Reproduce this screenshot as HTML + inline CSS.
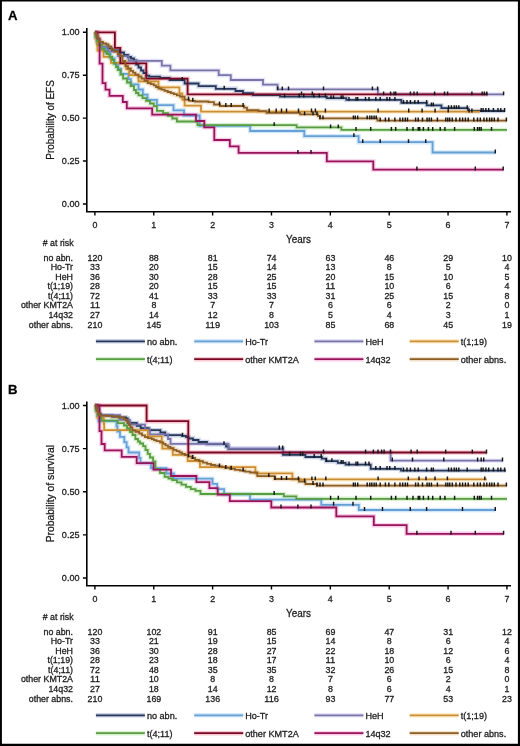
<!DOCTYPE html><html><head><meta charset="utf-8"><style>html,body{margin:0;padding:0;background:#fff;}svg{display:block;will-change:transform;}text{font-family:"Liberation Sans", sans-serif;stroke:#222;stroke-width:0.28px;paint-order:stroke;}</style></head><body><svg width="520" height="746" viewBox="0 0 520 746"><rect x="0" y="0" width="520" height="746" fill="#fff"/><g><text x="8.1" y="19.5" font-size="13.2" font-weight="bold" fill="#000">A</text><path d="M94.9 32.3H95.8V36.0H97.0V40.0H99.0V44.0H101.0V46.8H106.3V48.4H112.0V50.5H119.4V52.5H124.0V55.0H128.0V57.0H131.0V58.5H134.0V60.5H136.2V64.6H138.5V67.5H141.0V70.5H143.5V73.0H146.2V75.6H149.2V76.7H160.0V77.8H169.6V80.0H184.6V83.5H198.6V86.2H215.8V88.8H235.5V91.0H243.0V93.2H253.0V95.0H280.0V96.6H326.8V98.2H346.3V99.9H401.3V102.9H426.7V105.4H441.4V108.2H467.8V111.0H505.0" fill="none" stroke="#4060a0" stroke-width="4.40" stroke-opacity="0.28"/><path d="M94.9 32.3H96.0V37.5H98.0V42.7H101.0V47.9H106.0V53.1H110.5V58.3H114.5V63.5H118.0V68.7H121.0V73.9H128.5V79.1H130.8V84.3H138.5V89.5H142.8V94.7H147.5V99.9H156.9V105.1H173.5V110.3H184.0V115.5H199.7V125.9H250.2V131.0H304.3V136.2H358.6V142.2H432.6V152.5H495.3" fill="none" stroke="#60b0f0" stroke-width="4.40" stroke-opacity="0.28"/><path d="M94.9 32.3H95.8V37.1H97.0V41.8H100.5V46.6H108.0V51.4H118.0V56.2H128.6V60.9H161.8V65.7H170.4V70.4H218.7V75.2H230.8V80.0H263.0V84.6H277.5V89.4H377.9V94.4H503.8" fill="none" stroke="#a098e8" stroke-width="4.40" stroke-opacity="0.28"/><path d="M94.9 32.3H95.8V38.4H96.8V44.5H97.4V50.6H103.5V56.8H111.0V62.9H126.2V69.0H129.2V75.2H138.5V81.3H158.5V87.3H179.4V93.4H182.3V99.6H184.6V105.6H201.0V111.6H480.0" fill="none" stroke="#f8b840" stroke-width="4.40" stroke-opacity="0.28"/><path d="M94.9 32.3H95.8V37.0H97.0V41.0H98.5V45.0H102.0V49.0H104.5V51.5H107.0V54.0H109.5V57.0H112.1V60.0H114.0V63.5H116.0V67.0H118.0V70.0H120.5V74.5H123.1V78.5H127.0V82.5H130.8V86.2H134.0V90.0H136.0V93.0H138.5V95.4H142.5V98.2H146.2V100.8H150.0V103.5H153.8V106.2H156.9V110.8H163.1V113.1H168.0V115.8H172.3V118.5H176.9V121.5H197.5V125.2H296.6V127.4H341.4V129.9H507.0" fill="none" stroke="#70c850" stroke-width="4.40" stroke-opacity="0.28"/><path d="M94.9 32.3H114.9V47.9H120.3V63.3H146.3V78.6H187.6V94.4H487.8" fill="none" stroke="#f03858" stroke-width="4.40" stroke-opacity="0.28"/><path d="M94.9 32.3H97.5V38.6H99.6V63.6H102.5V83.2H105.5V89.6H109.5V95.9H122.8V102.0H126.8V108.3H152.2V114.7H196.0V121.0H204.3V127.4H214.3V140.0H229.8V146.4H238.6V152.9H326.8V161.4H373.3V169.6H503.2" fill="none" stroke="#f040b0" stroke-width="4.40" stroke-opacity="0.28"/><path d="M94.9 32.3H95.5V33.5H96.2V34.7H96.8V35.9H97.5V37.1H98.1V38.4H98.7V39.6H99.4V40.8H100.0V42.0H103.0V43.5H106.3V44.5H108.5V46.5H111.2V49.2H114.0V51.5H117.8V54.2H120.0V56.0H122.5V61.0H125.4V66.2H128.0V68.5H130.8V70.8H133.0V72.7H135.4V74.6H138.5V76.5H141.5V78.5H144.5V80.8H147.7V83.1H150.8V84.2H153.8V85.4H156.0V87.0H158.5V88.5H161.5V89.6H164.6V90.8H167.7V92.0H170.8V93.1H173.8V94.2H176.9V95.4H180.0V96.7H184.6V99.6H189.2V100.8H195.0V101.5H208.4V102.2H214.0V104.5H220.0V106.0H244.0V107.6H247.0V110.2H258.5V111.2H266.5V112.9H300.0V114.4H318.0V116.0H320.0V118.4H377.4V120.6H506.5" fill="none" stroke="#d09040" stroke-width="4.40" stroke-opacity="0.28"/><path d="M94.9 32.3H95.8V36.0H97.0V40.0H99.0V44.0H101.0V46.8H106.3V48.4H112.0V50.5H119.4V52.5H124.0V55.0H128.0V57.0H131.0V58.5H134.0V60.5H136.2V64.6H138.5V67.5H141.0V70.5H143.5V73.0H146.2V75.6H149.2V76.7H160.0V77.8H169.6V80.0H184.6V83.5H198.6V86.2H215.8V88.8H235.5V91.0H243.0V93.2H253.0V95.0H280.0V96.6H326.8V98.2H346.3V99.9H401.3V102.9H426.7V105.4H441.4V108.2H467.8V111.0H505.0" fill="none" stroke="#26385a" stroke-width="1.8" stroke-linejoin="miter"/><path d="M94.9 32.3H96.0V37.5H98.0V42.7H101.0V47.9H106.0V53.1H110.5V58.3H114.5V63.5H118.0V68.7H121.0V73.9H128.5V79.1H130.8V84.3H138.5V89.5H142.8V94.7H147.5V99.9H156.9V105.1H173.5V110.3H184.0V115.5H199.7V125.9H250.2V131.0H304.3V136.2H358.6V142.2H432.6V152.5H495.3" fill="none" stroke="#66a0d4" stroke-width="1.8" stroke-linejoin="miter"/><path d="M94.9 32.3H95.8V37.1H97.0V41.8H100.5V46.6H108.0V51.4H118.0V56.2H128.6V60.9H161.8V65.7H170.4V70.4H218.7V75.2H230.8V80.0H263.0V84.6H277.5V89.4H377.9V94.4H503.8" fill="none" stroke="#7874a6" stroke-width="1.8" stroke-linejoin="miter"/><path d="M94.9 32.3H95.8V38.4H96.8V44.5H97.4V50.6H103.5V56.8H111.0V62.9H126.2V69.0H129.2V75.2H138.5V81.3H158.5V87.3H179.4V93.4H182.3V99.6H184.6V105.6H201.0V111.6H480.0" fill="none" stroke="#cc8e34" stroke-width="1.8" stroke-linejoin="miter"/><path d="M94.9 32.3H95.8V37.0H97.0V41.0H98.5V45.0H102.0V49.0H104.5V51.5H107.0V54.0H109.5V57.0H112.1V60.0H114.0V63.5H116.0V67.0H118.0V70.0H120.5V74.5H123.1V78.5H127.0V82.5H130.8V86.2H134.0V90.0H136.0V93.0H138.5V95.4H142.5V98.2H146.2V100.8H150.0V103.5H153.8V106.2H156.9V110.8H163.1V113.1H168.0V115.8H172.3V118.5H176.9V121.5H197.5V125.2H296.6V127.4H341.4V129.9H507.0" fill="none" stroke="#5a9c44" stroke-width="1.8" stroke-linejoin="miter"/><path d="M94.9 32.3H114.9V47.9H120.3V63.3H146.3V78.6H187.6V94.4H487.8" fill="none" stroke="#760824" stroke-width="1.8" stroke-linejoin="miter"/><path d="M94.9 32.3H97.5V38.6H99.6V63.6H102.5V83.2H105.5V89.6H109.5V95.9H122.8V102.0H126.8V108.3H152.2V114.7H196.0V121.0H204.3V127.4H214.3V140.0H229.8V146.4H238.6V152.9H326.8V161.4H373.3V169.6H503.2" fill="none" stroke="#941658" stroke-width="1.8" stroke-linejoin="miter"/><path d="M94.9 32.3H95.5V33.5H96.2V34.7H96.8V35.9H97.5V37.1H98.1V38.4H98.7V39.6H99.4V40.8H100.0V42.0H103.0V43.5H106.3V44.5H108.5V46.5H111.2V49.2H114.0V51.5H117.8V54.2H120.0V56.0H122.5V61.0H125.4V66.2H128.0V68.5H130.8V70.8H133.0V72.7H135.4V74.6H138.5V76.5H141.5V78.5H144.5V80.8H147.7V83.1H150.8V84.2H153.8V85.4H156.0V87.0H158.5V88.5H161.5V89.6H164.6V90.8H167.7V92.0H170.8V93.1H173.8V94.2H176.9V95.4H180.0V96.7H184.6V99.6H189.2V100.8H195.0V101.5H208.4V102.2H214.0V104.5H220.0V106.0H244.0V107.6H247.0V110.2H258.5V111.2H266.5V112.9H300.0V114.4H318.0V116.0H320.0V118.4H377.4V120.6H506.5" fill="none" stroke="#8a5e26" stroke-width="1.8" stroke-linejoin="miter"/><path d="M182.3 80.9v-3.9M224.2 89.7v-3.9M284.6 97.5v-3.9M299.2 97.5v-3.9M303.8 97.5v-3.9M313.8 97.5v-3.9M319.2 97.5v-3.9M325.4 97.5v-3.9M331.0 99.1v-3.9M333.5 99.1v-3.9M341.2 99.1v-3.9M343.0 99.1v-3.9M349.0 100.8v-3.9M356.0 100.8v-3.9M357.7 100.8v-3.9M365.5 100.8v-3.9M369.0 100.8v-3.9M375.8 100.8v-3.9M380.2 100.8v-3.9M387.0 100.8v-3.9M389.7 100.8v-3.9M394.9 100.8v-3.9M403.5 103.8v-3.9M407.0 103.8v-3.9M410.4 103.8v-3.9M414.8 103.8v-3.9M418.2 103.8v-3.9M426.6 103.8v-3.9M431.4 106.3v-3.9M433.3 106.3v-3.9M448.6 109.1v-3.9M451.4 109.1v-3.9M454.2 109.1v-3.9M456.4 109.1v-3.9M458.8 109.1v-3.9M467.2 109.1v-3.9M481.2 111.9v-3.9M483.1 111.9v-3.9M485.9 111.9v-3.9M488.7 111.9v-3.9M493.4 111.9v-3.9M498.0 111.9v-3.9M500.8 111.9v-3.9M504.6 111.9v-3.9M277.7 90.3v-3.9M282.3 90.3v-3.9M288.5 90.3v-3.9M323.5 90.3v-3.9M372.4 90.3v-3.9M377.6 90.3v-3.9M383.6 95.3v-3.9M390.6 95.3v-3.9M394.0 95.3v-3.9M395.7 95.3v-3.9M410.4 95.3v-3.9M417.2 95.3v-3.9M434.6 95.3v-3.9M444.5 95.3v-3.9M447.6 95.3v-3.9M471.9 95.3v-3.9M503.6 95.3v-3.9M301.5 95.3v-3.9M312.3 95.3v-3.9M414.0 95.3v-3.9M482.2 95.3v-3.9M484.4 95.3v-3.9M486.8 95.3v-3.9M269.2 112.5v-3.9M276.2 112.5v-3.9M281.5 112.5v-3.9M286.5 112.5v-3.9M298.5 112.5v-3.9M311.5 112.5v-3.9M315.4 112.5v-3.9M325.4 112.5v-3.9M378.1 112.5v-3.9M408.7 112.5v-3.9M422.1 112.5v-3.9M435.1 112.5v-3.9M448.2 112.5v-3.9M469.1 112.5v-3.9M471.9 112.5v-3.9M188.5 100.5v-3.9M192.8 101.7v-3.9M219.5 105.4v-3.9M225.8 106.9v-3.9M231.2 106.9v-3.9M243.1 106.9v-3.9M304.6 115.3v-3.9M313.0 115.3v-3.9M317.0 115.3v-3.9M320.0 119.3v-3.9M323.0 119.3v-3.9M353.4 119.3v-3.9M355.3 119.3v-3.9M357.7 119.3v-3.9M367.2 119.3v-3.9M369.8 119.3v-3.9M371.8 119.3v-3.9M374.1 119.3v-3.9M376.2 119.3v-3.9M380.2 121.5v-3.9M385.4 121.5v-3.9M388.8 121.5v-3.9M394.9 121.5v-3.9M400.0 121.5v-3.9M402.7 121.5v-3.9M405.3 121.5v-3.9M407.5 121.5v-3.9M415.6 121.5v-3.9M418.2 121.5v-3.9M422.5 121.5v-3.9M427.1 121.5v-3.9M429.2 121.5v-3.9M431.4 121.5v-3.9M437.4 121.5v-3.9M445.8 121.5v-3.9M447.8 121.5v-3.9M449.7 121.5v-3.9M452.3 121.5v-3.9M456.0 121.5v-3.9M459.8 121.5v-3.9M462.6 121.5v-3.9M465.4 121.5v-3.9M468.2 121.5v-3.9M473.8 121.5v-3.9M477.5 121.5v-3.9M480.3 121.5v-3.9M484.0 121.5v-3.9M486.8 121.5v-3.9M489.6 121.5v-3.9M491.8 121.5v-3.9M494.3 121.5v-3.9M498.0 121.5v-3.9M506.4 121.5v-3.9M274.2 126.1v-3.9M330.6 128.3v-3.9M338.3 128.3v-3.9M356.0 130.8v-3.9M370.7 130.8v-3.9M391.4 130.8v-3.9M395.7 130.8v-3.9M407.0 130.8v-3.9M413.0 130.8v-3.9M418.2 130.8v-3.9M419.7 130.8v-3.9M423.4 130.8v-3.9M428.4 130.8v-3.9M432.7 130.8v-3.9M440.2 130.8v-3.9M444.9 130.8v-3.9M454.6 130.8v-3.9M474.3 130.8v-3.9M477.5 130.8v-3.9M479.4 130.8v-3.9M481.2 130.8v-3.9M491.5 130.8v-3.9M353.9 137.1v-3.9M362.7 143.1v-3.9M380.2 143.1v-3.9M408.5 143.1v-3.9M425.7 143.1v-3.9M495.3 153.4v-3.9M297.9 153.8v-3.9M311.0 153.8v-3.9M416.9 170.5v-3.9M475.3 170.5v-3.9M503.2 170.5v-3.9" stroke="#161616" stroke-width="1.45" fill="none"/><path d="M86.8 28.0V211.7H511" fill="none" stroke="#000" stroke-width="1.6"/><text x="79.5" y="35.40" font-size="8.8" text-anchor="end" textLength="17.64" lengthAdjust="spacingAndGlyphs" fill="#1a1a1a">1.00</text><text x="79.5" y="78.33" font-size="8.8" text-anchor="end" textLength="17.64" lengthAdjust="spacingAndGlyphs" fill="#1a1a1a">0.75</text><text x="79.5" y="121.25" font-size="8.8" text-anchor="end" textLength="17.64" lengthAdjust="spacingAndGlyphs" fill="#1a1a1a">0.50</text><text x="79.5" y="164.17" font-size="8.8" text-anchor="end" textLength="17.64" lengthAdjust="spacingAndGlyphs" fill="#1a1a1a">0.25</text><text x="79.5" y="207.10" font-size="8.8" text-anchor="end" textLength="17.64" lengthAdjust="spacingAndGlyphs" fill="#1a1a1a">0.00</text><path d="M82.9 32.30H86.8M82.9 75.23H86.8M82.9 118.15H86.8M82.9 161.07H86.8M82.9 204.00H86.8" stroke="#000" stroke-width="1.4"/><text x="94.90" y="227.5" font-size="8.9" text-anchor="middle" fill="#1a1a1a">0</text><text x="153.76" y="227.5" font-size="8.9" text-anchor="middle" fill="#1a1a1a">1</text><text x="212.62" y="227.5" font-size="8.9" text-anchor="middle" fill="#1a1a1a">2</text><text x="271.48" y="227.5" font-size="8.9" text-anchor="middle" fill="#1a1a1a">3</text><text x="330.34" y="227.5" font-size="8.9" text-anchor="middle" fill="#1a1a1a">4</text><text x="389.20" y="227.5" font-size="8.9" text-anchor="middle" fill="#1a1a1a">5</text><text x="448.06" y="227.5" font-size="8.9" text-anchor="middle" fill="#1a1a1a">6</text><text x="506.92" y="227.5" font-size="8.9" text-anchor="middle" fill="#1a1a1a">7</text><path d="M94.90 211.7V215.6M153.76 211.7V215.6M212.62 211.7V215.6M271.48 211.7V215.6M330.34 211.7V215.6M389.20 211.7V215.6M448.06 211.7V215.6M506.92 211.7V215.6" stroke="#000" stroke-width="1.4"/><text x="298.55" y="242.6" font-size="11.2" text-anchor="middle" textLength="25.0" lengthAdjust="spacingAndGlyphs" fill="#1a1a1a">Years</text><text transform="translate(54.3 119.95) rotate(-90)" font-size="11.0" text-anchor="middle" textLength="79.4" lengthAdjust="spacingAndGlyphs" fill="#1a1a1a">Probability of EFS</text><text x="73.6" y="246.1" font-size="8.8" text-anchor="end" fill="#1a1a1a"># at risk</text><text x="73.0" y="260.70" font-size="8.85" text-anchor="end" fill="#1a1a1a">no abn.</text><text x="95.00" y="260.70" font-size="8.85" text-anchor="middle" textLength="14.76" lengthAdjust="spacingAndGlyphs" fill="#1a1a1a">120</text><text x="153.86" y="260.70" font-size="8.85" text-anchor="middle" textLength="9.84" lengthAdjust="spacingAndGlyphs" fill="#1a1a1a">88</text><text x="212.72" y="260.70" font-size="8.85" text-anchor="middle" textLength="9.84" lengthAdjust="spacingAndGlyphs" fill="#1a1a1a">81</text><text x="271.58" y="260.70" font-size="8.85" text-anchor="middle" textLength="9.84" lengthAdjust="spacingAndGlyphs" fill="#1a1a1a">74</text><text x="330.44" y="260.70" font-size="8.85" text-anchor="middle" textLength="9.84" lengthAdjust="spacingAndGlyphs" fill="#1a1a1a">63</text><text x="389.30" y="260.70" font-size="8.85" text-anchor="middle" textLength="9.84" lengthAdjust="spacingAndGlyphs" fill="#1a1a1a">46</text><text x="448.16" y="260.70" font-size="8.85" text-anchor="middle" textLength="9.84" lengthAdjust="spacingAndGlyphs" fill="#1a1a1a">29</text><text x="507.02" y="260.70" font-size="8.85" text-anchor="middle" textLength="9.84" lengthAdjust="spacingAndGlyphs" fill="#1a1a1a">10</text><text x="73.0" y="270.25" font-size="8.85" text-anchor="end" fill="#1a1a1a">Ho-Tr</text><text x="95.00" y="270.25" font-size="8.85" text-anchor="middle" textLength="9.84" lengthAdjust="spacingAndGlyphs" fill="#1a1a1a">33</text><text x="153.86" y="270.25" font-size="8.85" text-anchor="middle" textLength="9.84" lengthAdjust="spacingAndGlyphs" fill="#1a1a1a">20</text><text x="212.72" y="270.25" font-size="8.85" text-anchor="middle" textLength="9.84" lengthAdjust="spacingAndGlyphs" fill="#1a1a1a">15</text><text x="271.58" y="270.25" font-size="8.85" text-anchor="middle" textLength="9.84" lengthAdjust="spacingAndGlyphs" fill="#1a1a1a">14</text><text x="330.44" y="270.25" font-size="8.85" text-anchor="middle" textLength="9.84" lengthAdjust="spacingAndGlyphs" fill="#1a1a1a">13</text><text x="389.30" y="270.25" font-size="8.85" text-anchor="middle" textLength="4.92" lengthAdjust="spacingAndGlyphs" fill="#1a1a1a">8</text><text x="448.16" y="270.25" font-size="8.85" text-anchor="middle" textLength="4.92" lengthAdjust="spacingAndGlyphs" fill="#1a1a1a">5</text><text x="507.02" y="270.25" font-size="8.85" text-anchor="middle" textLength="4.92" lengthAdjust="spacingAndGlyphs" fill="#1a1a1a">4</text><text x="73.0" y="279.80" font-size="8.85" text-anchor="end" fill="#1a1a1a">HeH</text><text x="95.00" y="279.80" font-size="8.85" text-anchor="middle" textLength="9.84" lengthAdjust="spacingAndGlyphs" fill="#1a1a1a">36</text><text x="153.86" y="279.80" font-size="8.85" text-anchor="middle" textLength="9.84" lengthAdjust="spacingAndGlyphs" fill="#1a1a1a">30</text><text x="212.72" y="279.80" font-size="8.85" text-anchor="middle" textLength="9.84" lengthAdjust="spacingAndGlyphs" fill="#1a1a1a">28</text><text x="271.58" y="279.80" font-size="8.85" text-anchor="middle" textLength="9.84" lengthAdjust="spacingAndGlyphs" fill="#1a1a1a">25</text><text x="330.44" y="279.80" font-size="8.85" text-anchor="middle" textLength="9.84" lengthAdjust="spacingAndGlyphs" fill="#1a1a1a">20</text><text x="389.30" y="279.80" font-size="8.85" text-anchor="middle" textLength="9.84" lengthAdjust="spacingAndGlyphs" fill="#1a1a1a">15</text><text x="448.16" y="279.80" font-size="8.85" text-anchor="middle" textLength="9.84" lengthAdjust="spacingAndGlyphs" fill="#1a1a1a">10</text><text x="507.02" y="279.80" font-size="8.85" text-anchor="middle" textLength="4.92" lengthAdjust="spacingAndGlyphs" fill="#1a1a1a">5</text><text x="73.0" y="289.35" font-size="8.85" text-anchor="end" fill="#1a1a1a">t(1;19)</text><text x="95.00" y="289.35" font-size="8.85" text-anchor="middle" textLength="9.84" lengthAdjust="spacingAndGlyphs" fill="#1a1a1a">28</text><text x="153.86" y="289.35" font-size="8.85" text-anchor="middle" textLength="9.84" lengthAdjust="spacingAndGlyphs" fill="#1a1a1a">20</text><text x="212.72" y="289.35" font-size="8.85" text-anchor="middle" textLength="9.84" lengthAdjust="spacingAndGlyphs" fill="#1a1a1a">15</text><text x="271.58" y="289.35" font-size="8.85" text-anchor="middle" textLength="9.84" lengthAdjust="spacingAndGlyphs" fill="#1a1a1a">15</text><text x="330.44" y="289.35" font-size="8.85" text-anchor="middle" textLength="9.84" lengthAdjust="spacingAndGlyphs" fill="#1a1a1a">11</text><text x="389.30" y="289.35" font-size="8.85" text-anchor="middle" textLength="9.84" lengthAdjust="spacingAndGlyphs" fill="#1a1a1a">10</text><text x="448.16" y="289.35" font-size="8.85" text-anchor="middle" textLength="4.92" lengthAdjust="spacingAndGlyphs" fill="#1a1a1a">6</text><text x="507.02" y="289.35" font-size="8.85" text-anchor="middle" textLength="4.92" lengthAdjust="spacingAndGlyphs" fill="#1a1a1a">4</text><text x="73.0" y="298.90" font-size="8.85" text-anchor="end" fill="#1a1a1a">t(4;11)</text><text x="95.00" y="298.90" font-size="8.85" text-anchor="middle" textLength="9.84" lengthAdjust="spacingAndGlyphs" fill="#1a1a1a">72</text><text x="153.86" y="298.90" font-size="8.85" text-anchor="middle" textLength="9.84" lengthAdjust="spacingAndGlyphs" fill="#1a1a1a">41</text><text x="212.72" y="298.90" font-size="8.85" text-anchor="middle" textLength="9.84" lengthAdjust="spacingAndGlyphs" fill="#1a1a1a">33</text><text x="271.58" y="298.90" font-size="8.85" text-anchor="middle" textLength="9.84" lengthAdjust="spacingAndGlyphs" fill="#1a1a1a">33</text><text x="330.44" y="298.90" font-size="8.85" text-anchor="middle" textLength="9.84" lengthAdjust="spacingAndGlyphs" fill="#1a1a1a">31</text><text x="389.30" y="298.90" font-size="8.85" text-anchor="middle" textLength="9.84" lengthAdjust="spacingAndGlyphs" fill="#1a1a1a">25</text><text x="448.16" y="298.90" font-size="8.85" text-anchor="middle" textLength="9.84" lengthAdjust="spacingAndGlyphs" fill="#1a1a1a">15</text><text x="507.02" y="298.90" font-size="8.85" text-anchor="middle" textLength="4.92" lengthAdjust="spacingAndGlyphs" fill="#1a1a1a">8</text><text x="73.0" y="308.45" font-size="8.85" text-anchor="end" fill="#1a1a1a">other KMT2A</text><text x="95.00" y="308.45" font-size="8.85" text-anchor="middle" textLength="9.84" lengthAdjust="spacingAndGlyphs" fill="#1a1a1a">11</text><text x="153.86" y="308.45" font-size="8.85" text-anchor="middle" textLength="4.92" lengthAdjust="spacingAndGlyphs" fill="#1a1a1a">8</text><text x="212.72" y="308.45" font-size="8.85" text-anchor="middle" textLength="4.92" lengthAdjust="spacingAndGlyphs" fill="#1a1a1a">7</text><text x="271.58" y="308.45" font-size="8.85" text-anchor="middle" textLength="4.92" lengthAdjust="spacingAndGlyphs" fill="#1a1a1a">7</text><text x="330.44" y="308.45" font-size="8.85" text-anchor="middle" textLength="4.92" lengthAdjust="spacingAndGlyphs" fill="#1a1a1a">6</text><text x="389.30" y="308.45" font-size="8.85" text-anchor="middle" textLength="4.92" lengthAdjust="spacingAndGlyphs" fill="#1a1a1a">6</text><text x="448.16" y="308.45" font-size="8.85" text-anchor="middle" textLength="4.92" lengthAdjust="spacingAndGlyphs" fill="#1a1a1a">2</text><text x="507.02" y="308.45" font-size="8.85" text-anchor="middle" textLength="4.92" lengthAdjust="spacingAndGlyphs" fill="#1a1a1a">0</text><text x="73.0" y="318.00" font-size="8.85" text-anchor="end" fill="#1a1a1a">14q32</text><text x="95.00" y="318.00" font-size="8.85" text-anchor="middle" textLength="9.84" lengthAdjust="spacingAndGlyphs" fill="#1a1a1a">27</text><text x="153.86" y="318.00" font-size="8.85" text-anchor="middle" textLength="9.84" lengthAdjust="spacingAndGlyphs" fill="#1a1a1a">14</text><text x="212.72" y="318.00" font-size="8.85" text-anchor="middle" textLength="9.84" lengthAdjust="spacingAndGlyphs" fill="#1a1a1a">12</text><text x="271.58" y="318.00" font-size="8.85" text-anchor="middle" textLength="4.92" lengthAdjust="spacingAndGlyphs" fill="#1a1a1a">8</text><text x="330.44" y="318.00" font-size="8.85" text-anchor="middle" textLength="4.92" lengthAdjust="spacingAndGlyphs" fill="#1a1a1a">5</text><text x="389.30" y="318.00" font-size="8.85" text-anchor="middle" textLength="4.92" lengthAdjust="spacingAndGlyphs" fill="#1a1a1a">4</text><text x="448.16" y="318.00" font-size="8.85" text-anchor="middle" textLength="4.92" lengthAdjust="spacingAndGlyphs" fill="#1a1a1a">3</text><text x="507.02" y="318.00" font-size="8.85" text-anchor="middle" textLength="4.92" lengthAdjust="spacingAndGlyphs" fill="#1a1a1a">1</text><text x="73.0" y="327.55" font-size="8.85" text-anchor="end" fill="#1a1a1a">other abns.</text><text x="95.00" y="327.55" font-size="8.85" text-anchor="middle" textLength="14.76" lengthAdjust="spacingAndGlyphs" fill="#1a1a1a">210</text><text x="153.86" y="327.55" font-size="8.85" text-anchor="middle" textLength="14.76" lengthAdjust="spacingAndGlyphs" fill="#1a1a1a">145</text><text x="212.72" y="327.55" font-size="8.85" text-anchor="middle" textLength="14.76" lengthAdjust="spacingAndGlyphs" fill="#1a1a1a">119</text><text x="271.58" y="327.55" font-size="8.85" text-anchor="middle" textLength="14.76" lengthAdjust="spacingAndGlyphs" fill="#1a1a1a">103</text><text x="330.44" y="327.55" font-size="8.85" text-anchor="middle" textLength="9.84" lengthAdjust="spacingAndGlyphs" fill="#1a1a1a">85</text><text x="389.30" y="327.55" font-size="8.85" text-anchor="middle" textLength="9.84" lengthAdjust="spacingAndGlyphs" fill="#1a1a1a">68</text><text x="448.16" y="327.55" font-size="8.85" text-anchor="middle" textLength="9.84" lengthAdjust="spacingAndGlyphs" fill="#1a1a1a">45</text><text x="507.02" y="327.55" font-size="8.85" text-anchor="middle" textLength="9.84" lengthAdjust="spacingAndGlyphs" fill="#1a1a1a">19</text><path d="M95.9 341.3H144.9" stroke="#4060a0" stroke-width="4.40" stroke-opacity="0.28"/><path d="M95.9 341.3H144.9" stroke="#26385a" stroke-width="1.7"/><text x="146.9" y="345.2" font-size="9.1" fill="#1a1a1a">no abn.</text><path d="M194.2 341.3H243.2" stroke="#60b0f0" stroke-width="4.40" stroke-opacity="0.28"/><path d="M194.2 341.3H243.2" stroke="#66a0d4" stroke-width="1.7"/><text x="245.2" y="345.2" font-size="9.1" fill="#1a1a1a">Ho-Tr</text><path d="M314.4 341.3H363.4" stroke="#a098e8" stroke-width="4.40" stroke-opacity="0.28"/><path d="M314.4 341.3H363.4" stroke="#7874a6" stroke-width="1.7"/><text x="365.4" y="345.2" font-size="9.1" fill="#1a1a1a">HeH</text><path d="M409.7 341.3H458.7" stroke="#f8b840" stroke-width="4.40" stroke-opacity="0.28"/><path d="M409.7 341.3H458.7" stroke="#cc8e34" stroke-width="1.7"/><text x="460.7" y="345.2" font-size="9.1" fill="#1a1a1a">t(1;19)</text><path d="M95.9 359.2H144.9" stroke="#70c850" stroke-width="4.40" stroke-opacity="0.28"/><path d="M95.9 359.2H144.9" stroke="#5a9c44" stroke-width="1.7"/><text x="146.9" y="363.1" font-size="9.1" fill="#1a1a1a">t(4;11)</text><path d="M194.2 359.2H243.2" stroke="#f03858" stroke-width="4.40" stroke-opacity="0.28"/><path d="M194.2 359.2H243.2" stroke="#760824" stroke-width="1.7"/><text x="245.2" y="363.1" font-size="9.1" fill="#1a1a1a">other KMT2A</text><path d="M314.4 359.2H363.4" stroke="#f040b0" stroke-width="4.40" stroke-opacity="0.28"/><path d="M314.4 359.2H363.4" stroke="#941658" stroke-width="1.7"/><text x="365.4" y="363.1" font-size="9.1" fill="#1a1a1a">14q32</text><path d="M409.7 359.2H458.7" stroke="#d09040" stroke-width="4.40" stroke-opacity="0.28"/><path d="M409.7 359.2H458.7" stroke="#8a5e26" stroke-width="1.7"/><text x="460.7" y="363.1" font-size="9.1" fill="#1a1a1a">other abns.</text></g><g><text x="8.1" y="393.5" font-size="13.2" font-weight="bold" fill="#000">B</text><path d="M94.9 405.5H96.0V408.0H97.5V411.0H99.0V414.0H100.7V415.4H112.2V416.6H119.0V417.4H126.0V418.4H127.7V422.9H136.8V425.8H140.7V428.2H148.8V430.1H160.4V432.5H165.2V435.2H182.0V435.8H186.0V437.0H188.5V438.5H193.0V440.0H198.5V442.0H207.0V444.2H226.0V446.5H228.5V448.8H283.0V454.8H305.4V457.0H321.8V458.7H326.0V461.2H337.8V462.9H345.6V464.6H370.7V468.9H401.0V470.6H506.0" fill="none" stroke="#4060a0" stroke-width="4.40" stroke-opacity="0.28"/><path d="M94.9 405.5H96.0V410.7H97.0V416.0H98.5V421.2H116.5V426.4H117.5V431.6H120.0V436.9H124.3V442.1H126.6V447.3H128.5V452.5H139.2V457.8H140.5V463.0H151.0V468.2H166.4V473.5H173.8V478.7H212.5V483.9H217.2V489.1H224.1V494.4H250.0V499.6H321.3V504.8H358.8V510.0H495.3" fill="none" stroke="#60b0f0" stroke-width="4.40" stroke-opacity="0.28"/><path d="M94.9 405.5H96.5V410.3H99.0V415.1H120.0V419.9H130.0V424.7H145.0V429.5H150.0V434.3H168.0V439.0H170.5V443.8H228.5V448.6H282.9V452.4H390.6V460.6H502.7" fill="none" stroke="#a098e8" stroke-width="4.40" stroke-opacity="0.28"/><path d="M94.9 405.5H96.5V411.7H97.5V417.8H103.8V424.0H104.2V430.1H147.9V436.3H161.8V442.5H162.3V448.6H172.8V454.8H187.7V461.0H200.0V467.1H255.4V473.3H292.4V479.4H486.8" fill="none" stroke="#f8b840" stroke-width="4.40" stroke-opacity="0.28"/><path d="M94.9 405.5H96.0V410.0H98.0V415.0H100.0V418.0H101.5V420.6H117.9V423.2H124.0V425.5H127.0V428.5H130.0V432.0H132.5V435.0H135.4V439.0H138.0V441.5H140.0V443.5H143.1V446.2H145.5V450.0H147.7V453.8H150.0V457.5H153.1V461.5H155.4V469.2H160.0V473.0H164.6V476.9H168.5V478.5H172.3V480.2H177.0V482.4H181.5V484.6H186.0V486.9H190.8V489.2H195.5V490.8H200.5V494.0H283.8V496.3H296.3V498.8H507.0" fill="none" stroke="#70c850" stroke-width="4.40" stroke-opacity="0.28"/><path d="M94.9 405.5H146.6V421.2H188.3V452.5H486.8" fill="none" stroke="#f03858" stroke-width="4.40" stroke-opacity="0.28"/><path d="M94.9 405.5H99.5V431.1H101.5V444.0H104.7V450.4H121.7V456.8H136.7V463.2H153.5V469.6H171.0V476.0H196.4V482.1H209.4V488.2H217.7V494.6H229.8V501.1H271.3V507.5H336.3V516.3H373.8V525.2H406.6V533.8H503.6" fill="none" stroke="#f040b0" stroke-width="4.40" stroke-opacity="0.28"/><path d="M94.9 405.5H96.0V408.0H97.0V411.0H98.0V413.5H99.5V415.3H101.0V415.6H106.0V415.9H112.0V416.5H119.0V417.5H124.0V419.0H126.0V420.5H127.5V422.5H129.0V425.0H130.5V427.5H132.5V430.3H135.5V431.8H139.2V433.5H142.0V435.4H145.0V437.2H148.0V438.2H151.7V439.2H154.0V440.2H156.5V441.2H160.0V442.4H163.3V443.8H165.5V445.4H168.0V446.8H170.5V448.2H173.5V449.8H176.5V451.2H179.5V452.5H182.0V453.8H185.0V455.0H188.0V456.3H191.5V458.0H195.0V459.8H199.0V461.2H203.0V462.7H207.0V463.8H211.0V465.0H215.0V465.7H219.2V466.4H222.0V467.2H225.0V467.9H230.0V468.8H235.0V469.8H240.0V470.6H245.0V471.6H250.0V472.5H257.3V476.2H274.6V479.0H299.0V481.5H305.4V484.0H317.0V485.6H506.4" fill="none" stroke="#d09040" stroke-width="4.40" stroke-opacity="0.28"/><path d="M94.9 405.5H96.0V408.0H97.5V411.0H99.0V414.0H100.7V415.4H112.2V416.6H119.0V417.4H126.0V418.4H127.7V422.9H136.8V425.8H140.7V428.2H148.8V430.1H160.4V432.5H165.2V435.2H182.0V435.8H186.0V437.0H188.5V438.5H193.0V440.0H198.5V442.0H207.0V444.2H226.0V446.5H228.5V448.8H283.0V454.8H305.4V457.0H321.8V458.7H326.0V461.2H337.8V462.9H345.6V464.6H370.7V468.9H401.0V470.6H506.0" fill="none" stroke="#26385a" stroke-width="1.8" stroke-linejoin="miter"/><path d="M94.9 405.5H96.0V410.7H97.0V416.0H98.5V421.2H116.5V426.4H117.5V431.6H120.0V436.9H124.3V442.1H126.6V447.3H128.5V452.5H139.2V457.8H140.5V463.0H151.0V468.2H166.4V473.5H173.8V478.7H212.5V483.9H217.2V489.1H224.1V494.4H250.0V499.6H321.3V504.8H358.8V510.0H495.3" fill="none" stroke="#66a0d4" stroke-width="1.8" stroke-linejoin="miter"/><path d="M94.9 405.5H96.5V410.3H99.0V415.1H120.0V419.9H130.0V424.7H145.0V429.5H150.0V434.3H168.0V439.0H170.5V443.8H228.5V448.6H282.9V452.4H390.6V460.6H502.7" fill="none" stroke="#7874a6" stroke-width="1.8" stroke-linejoin="miter"/><path d="M94.9 405.5H96.5V411.7H97.5V417.8H103.8V424.0H104.2V430.1H147.9V436.3H161.8V442.5H162.3V448.6H172.8V454.8H187.7V461.0H200.0V467.1H255.4V473.3H292.4V479.4H486.8" fill="none" stroke="#cc8e34" stroke-width="1.8" stroke-linejoin="miter"/><path d="M94.9 405.5H96.0V410.0H98.0V415.0H100.0V418.0H101.5V420.6H117.9V423.2H124.0V425.5H127.0V428.5H130.0V432.0H132.5V435.0H135.4V439.0H138.0V441.5H140.0V443.5H143.1V446.2H145.5V450.0H147.7V453.8H150.0V457.5H153.1V461.5H155.4V469.2H160.0V473.0H164.6V476.9H168.5V478.5H172.3V480.2H177.0V482.4H181.5V484.6H186.0V486.9H190.8V489.2H195.5V490.8H200.5V494.0H283.8V496.3H296.3V498.8H507.0" fill="none" stroke="#5a9c44" stroke-width="1.8" stroke-linejoin="miter"/><path d="M94.9 405.5H146.6V421.2H188.3V452.5H486.8" fill="none" stroke="#760824" stroke-width="1.8" stroke-linejoin="miter"/><path d="M94.9 405.5H99.5V431.1H101.5V444.0H104.7V450.4H121.7V456.8H136.7V463.2H153.5V469.6H171.0V476.0H196.4V482.1H209.4V488.2H217.7V494.6H229.8V501.1H271.3V507.5H336.3V516.3H373.8V525.2H406.6V533.8H503.6" fill="none" stroke="#941658" stroke-width="1.8" stroke-linejoin="miter"/><path d="M94.9 405.5H96.0V408.0H97.0V411.0H98.0V413.5H99.5V415.3H101.0V415.6H106.0V415.9H112.0V416.5H119.0V417.5H124.0V419.0H126.0V420.5H127.5V422.5H129.0V425.0H130.5V427.5H132.5V430.3H135.5V431.8H139.2V433.5H142.0V435.4H145.0V437.2H148.0V438.2H151.7V439.2H154.0V440.2H156.5V441.2H160.0V442.4H163.3V443.8H165.5V445.4H168.0V446.8H170.5V448.2H173.5V449.8H176.5V451.2H179.5V452.5H182.0V453.8H185.0V455.0H188.0V456.3H191.5V458.0H195.0V459.8H199.0V461.2H203.0V462.7H207.0V463.8H211.0V465.0H215.0V465.7H219.2V466.4H222.0V467.2H225.0V467.9H230.0V468.8H235.0V469.8H240.0V470.6H245.0V471.6H250.0V472.5H257.3V476.2H274.6V479.0H299.0V481.5H305.4V484.0H317.0V485.6H506.4" fill="none" stroke="#8a5e26" stroke-width="1.8" stroke-linejoin="miter"/><path d="M182.5 436.7v-3.9M224.0 445.1v-3.9M289.6 455.7v-3.9M300.4 455.7v-3.9M302.7 455.7v-3.9M314.2 457.9v-3.9M321.2 457.9v-3.9M326.5 462.1v-3.9M331.9 462.1v-3.9M341.2 463.8v-3.9M343.0 463.8v-3.9M349.0 465.5v-3.9M356.0 465.5v-3.9M357.7 465.5v-3.9M365.5 465.5v-3.9M369.0 465.5v-3.9M375.8 469.8v-3.9M380.2 469.8v-3.9M387.0 469.8v-3.9M389.7 469.8v-3.9M394.9 469.8v-3.9M403.5 471.5v-3.9M407.0 471.5v-3.9M410.4 471.5v-3.9M414.8 471.5v-3.9M418.2 471.5v-3.9M426.6 471.5v-3.9M431.4 471.5v-3.9M433.3 471.5v-3.9M448.6 471.5v-3.9M451.4 471.5v-3.9M454.2 471.5v-3.9M456.4 471.5v-3.9M458.8 471.5v-3.9M467.2 471.5v-3.9M481.2 471.5v-3.9M483.1 471.5v-3.9M485.9 471.5v-3.9M488.7 471.5v-3.9M493.4 471.5v-3.9M498.0 471.5v-3.9M500.8 471.5v-3.9M504.6 471.5v-3.9M279.3 449.5v-3.9M282.7 449.5v-3.9M392.3 461.5v-3.9M412.5 461.5v-3.9M443.8 461.5v-3.9M477.6 461.5v-3.9M481.2 461.5v-3.9M483.7 461.5v-3.9M502.5 461.5v-3.9M323.5 453.4v-3.9M365.6 453.4v-3.9M373.4 453.4v-3.9M378.0 453.4v-3.9M381.6 453.4v-3.9M384.1 453.4v-3.9M390.5 453.4v-3.9M411.1 453.4v-3.9M417.2 453.4v-3.9M445.7 453.4v-3.9M472.3 453.4v-3.9M486.5 453.4v-3.9M298.4 480.3v-3.9M311.9 480.3v-3.9M315.3 480.3v-3.9M325.8 480.3v-3.9M378.1 480.3v-3.9M408.3 480.3v-3.9M419.0 480.3v-3.9M426.0 480.3v-3.9M435.0 480.3v-3.9M447.4 480.3v-3.9M484.8 480.3v-3.9M188.5 457.2v-3.9M192.8 458.9v-3.9M219.5 467.3v-3.9M225.8 468.8v-3.9M231.2 469.7v-3.9M243.1 471.5v-3.9M268.8 477.1v-3.9M275.0 479.9v-3.9M281.5 479.9v-3.9M286.5 479.9v-3.9M304.6 482.4v-3.9M313.0 484.9v-3.9M317.0 486.5v-3.9M320.0 486.5v-3.9M323.0 486.5v-3.9M353.4 486.5v-3.9M355.3 486.5v-3.9M357.7 486.5v-3.9M367.2 486.5v-3.9M369.8 486.5v-3.9M371.8 486.5v-3.9M374.1 486.5v-3.9M376.2 486.5v-3.9M380.2 486.5v-3.9M385.4 486.5v-3.9M388.8 486.5v-3.9M394.9 486.5v-3.9M400.0 486.5v-3.9M402.7 486.5v-3.9M405.3 486.5v-3.9M407.5 486.5v-3.9M415.6 486.5v-3.9M418.2 486.5v-3.9M422.5 486.5v-3.9M427.1 486.5v-3.9M429.2 486.5v-3.9M431.4 486.5v-3.9M437.4 486.5v-3.9M445.8 486.5v-3.9M447.8 486.5v-3.9M449.7 486.5v-3.9M452.3 486.5v-3.9M456.0 486.5v-3.9M459.8 486.5v-3.9M462.6 486.5v-3.9M465.4 486.5v-3.9M468.2 486.5v-3.9M473.8 486.5v-3.9M477.5 486.5v-3.9M480.3 486.5v-3.9M484.0 486.5v-3.9M486.8 486.5v-3.9M489.6 486.5v-3.9M491.8 486.5v-3.9M494.3 486.5v-3.9M498.0 486.5v-3.9M506.4 486.5v-3.9M274.2 494.9v-3.9M330.6 499.7v-3.9M338.3 499.7v-3.9M356.0 499.7v-3.9M370.7 499.7v-3.9M391.4 499.7v-3.9M395.7 499.7v-3.9M407.0 499.7v-3.9M413.0 499.7v-3.9M418.2 499.7v-3.9M419.7 499.7v-3.9M423.4 499.7v-3.9M428.4 499.7v-3.9M432.7 499.7v-3.9M440.2 499.7v-3.9M444.9 499.7v-3.9M454.6 499.7v-3.9M474.3 499.7v-3.9M477.5 499.7v-3.9M479.4 499.7v-3.9M481.2 499.7v-3.9M491.5 499.7v-3.9M333.6 505.7v-3.9M353.0 505.7v-3.9M364.5 510.9v-3.9M382.5 510.9v-3.9M410.3 510.9v-3.9M426.6 510.9v-3.9M462.5 510.9v-3.9M495.3 510.9v-3.9M281.0 508.4v-3.9M297.9 508.4v-3.9M311.0 508.4v-3.9M416.9 534.7v-3.9M451.0 534.7v-3.9M475.3 534.7v-3.9M503.6 534.7v-3.9" stroke="#161616" stroke-width="1.45" fill="none"/><path d="M86.8 401.4V585.7H511" fill="none" stroke="#000" stroke-width="1.6"/><text x="79.5" y="408.60" font-size="8.8" text-anchor="end" textLength="17.64" lengthAdjust="spacingAndGlyphs" fill="#1a1a1a">1.00</text><text x="79.5" y="451.73" font-size="8.8" text-anchor="end" textLength="17.64" lengthAdjust="spacingAndGlyphs" fill="#1a1a1a">0.75</text><text x="79.5" y="494.85" font-size="8.8" text-anchor="end" textLength="17.64" lengthAdjust="spacingAndGlyphs" fill="#1a1a1a">0.50</text><text x="79.5" y="537.98" font-size="8.8" text-anchor="end" textLength="17.64" lengthAdjust="spacingAndGlyphs" fill="#1a1a1a">0.25</text><text x="79.5" y="581.10" font-size="8.8" text-anchor="end" textLength="17.64" lengthAdjust="spacingAndGlyphs" fill="#1a1a1a">0.00</text><path d="M82.9 405.50H86.8M82.9 448.62H86.8M82.9 491.75H86.8M82.9 534.88H86.8M82.9 578.00H86.8" stroke="#000" stroke-width="1.4"/><text x="94.90" y="601.5" font-size="8.9" text-anchor="middle" fill="#1a1a1a">0</text><text x="153.76" y="601.5" font-size="8.9" text-anchor="middle" fill="#1a1a1a">1</text><text x="212.62" y="601.5" font-size="8.9" text-anchor="middle" fill="#1a1a1a">2</text><text x="271.48" y="601.5" font-size="8.9" text-anchor="middle" fill="#1a1a1a">3</text><text x="330.34" y="601.5" font-size="8.9" text-anchor="middle" fill="#1a1a1a">4</text><text x="389.20" y="601.5" font-size="8.9" text-anchor="middle" fill="#1a1a1a">5</text><text x="448.06" y="601.5" font-size="8.9" text-anchor="middle" fill="#1a1a1a">6</text><text x="506.92" y="601.5" font-size="8.9" text-anchor="middle" fill="#1a1a1a">7</text><path d="M94.90 585.7V589.6M153.76 585.7V589.6M212.62 585.7V589.6M271.48 585.7V589.6M330.34 585.7V589.6M389.20 585.7V589.6M448.06 585.7V589.6M506.92 585.7V589.6" stroke="#000" stroke-width="1.4"/><text x="298.55" y="616.6" font-size="11.2" text-anchor="middle" textLength="25.0" lengthAdjust="spacingAndGlyphs" fill="#1a1a1a">Years</text><text transform="translate(54.3 493.70) rotate(-90)" font-size="11.0" text-anchor="middle" textLength="97.3" lengthAdjust="spacingAndGlyphs" fill="#1a1a1a">Probability of survival</text><text x="73.6" y="620.1" font-size="8.8" text-anchor="end" fill="#1a1a1a"># at risk</text><text x="73.0" y="634.70" font-size="8.85" text-anchor="end" fill="#1a1a1a">no abn.</text><text x="95.00" y="634.70" font-size="8.85" text-anchor="middle" textLength="14.76" lengthAdjust="spacingAndGlyphs" fill="#1a1a1a">120</text><text x="153.86" y="634.70" font-size="8.85" text-anchor="middle" textLength="14.76" lengthAdjust="spacingAndGlyphs" fill="#1a1a1a">102</text><text x="212.72" y="634.70" font-size="8.85" text-anchor="middle" textLength="9.84" lengthAdjust="spacingAndGlyphs" fill="#1a1a1a">91</text><text x="271.58" y="634.70" font-size="8.85" text-anchor="middle" textLength="9.84" lengthAdjust="spacingAndGlyphs" fill="#1a1a1a">85</text><text x="330.44" y="634.70" font-size="8.85" text-anchor="middle" textLength="9.84" lengthAdjust="spacingAndGlyphs" fill="#1a1a1a">69</text><text x="389.30" y="634.70" font-size="8.85" text-anchor="middle" textLength="9.84" lengthAdjust="spacingAndGlyphs" fill="#1a1a1a">47</text><text x="448.16" y="634.70" font-size="8.85" text-anchor="middle" textLength="9.84" lengthAdjust="spacingAndGlyphs" fill="#1a1a1a">31</text><text x="507.02" y="634.70" font-size="8.85" text-anchor="middle" textLength="9.84" lengthAdjust="spacingAndGlyphs" fill="#1a1a1a">12</text><text x="73.0" y="644.25" font-size="8.85" text-anchor="end" fill="#1a1a1a">Ho-Tr</text><text x="95.00" y="644.25" font-size="8.85" text-anchor="middle" textLength="9.84" lengthAdjust="spacingAndGlyphs" fill="#1a1a1a">33</text><text x="153.86" y="644.25" font-size="8.85" text-anchor="middle" textLength="9.84" lengthAdjust="spacingAndGlyphs" fill="#1a1a1a">21</text><text x="212.72" y="644.25" font-size="8.85" text-anchor="middle" textLength="9.84" lengthAdjust="spacingAndGlyphs" fill="#1a1a1a">19</text><text x="271.58" y="644.25" font-size="8.85" text-anchor="middle" textLength="9.84" lengthAdjust="spacingAndGlyphs" fill="#1a1a1a">15</text><text x="330.44" y="644.25" font-size="8.85" text-anchor="middle" textLength="9.84" lengthAdjust="spacingAndGlyphs" fill="#1a1a1a">14</text><text x="389.30" y="644.25" font-size="8.85" text-anchor="middle" textLength="4.92" lengthAdjust="spacingAndGlyphs" fill="#1a1a1a">8</text><text x="448.16" y="644.25" font-size="8.85" text-anchor="middle" textLength="4.92" lengthAdjust="spacingAndGlyphs" fill="#1a1a1a">6</text><text x="507.02" y="644.25" font-size="8.85" text-anchor="middle" textLength="4.92" lengthAdjust="spacingAndGlyphs" fill="#1a1a1a">4</text><text x="73.0" y="653.80" font-size="8.85" text-anchor="end" fill="#1a1a1a">HeH</text><text x="95.00" y="653.80" font-size="8.85" text-anchor="middle" textLength="9.84" lengthAdjust="spacingAndGlyphs" fill="#1a1a1a">36</text><text x="153.86" y="653.80" font-size="8.85" text-anchor="middle" textLength="9.84" lengthAdjust="spacingAndGlyphs" fill="#1a1a1a">30</text><text x="212.72" y="653.80" font-size="8.85" text-anchor="middle" textLength="9.84" lengthAdjust="spacingAndGlyphs" fill="#1a1a1a">28</text><text x="271.58" y="653.80" font-size="8.85" text-anchor="middle" textLength="9.84" lengthAdjust="spacingAndGlyphs" fill="#1a1a1a">27</text><text x="330.44" y="653.80" font-size="8.85" text-anchor="middle" textLength="9.84" lengthAdjust="spacingAndGlyphs" fill="#1a1a1a">22</text><text x="389.30" y="653.80" font-size="8.85" text-anchor="middle" textLength="9.84" lengthAdjust="spacingAndGlyphs" fill="#1a1a1a">18</text><text x="448.16" y="653.80" font-size="8.85" text-anchor="middle" textLength="9.84" lengthAdjust="spacingAndGlyphs" fill="#1a1a1a">12</text><text x="507.02" y="653.80" font-size="8.85" text-anchor="middle" textLength="4.92" lengthAdjust="spacingAndGlyphs" fill="#1a1a1a">6</text><text x="73.0" y="663.35" font-size="8.85" text-anchor="end" fill="#1a1a1a">t(1;19)</text><text x="95.00" y="663.35" font-size="8.85" text-anchor="middle" textLength="9.84" lengthAdjust="spacingAndGlyphs" fill="#1a1a1a">28</text><text x="153.86" y="663.35" font-size="8.85" text-anchor="middle" textLength="9.84" lengthAdjust="spacingAndGlyphs" fill="#1a1a1a">23</text><text x="212.72" y="663.35" font-size="8.85" text-anchor="middle" textLength="9.84" lengthAdjust="spacingAndGlyphs" fill="#1a1a1a">18</text><text x="271.58" y="663.35" font-size="8.85" text-anchor="middle" textLength="9.84" lengthAdjust="spacingAndGlyphs" fill="#1a1a1a">17</text><text x="330.44" y="663.35" font-size="8.85" text-anchor="middle" textLength="9.84" lengthAdjust="spacingAndGlyphs" fill="#1a1a1a">11</text><text x="389.30" y="663.35" font-size="8.85" text-anchor="middle" textLength="9.84" lengthAdjust="spacingAndGlyphs" fill="#1a1a1a">10</text><text x="448.16" y="663.35" font-size="8.85" text-anchor="middle" textLength="4.92" lengthAdjust="spacingAndGlyphs" fill="#1a1a1a">6</text><text x="507.02" y="663.35" font-size="8.85" text-anchor="middle" textLength="4.92" lengthAdjust="spacingAndGlyphs" fill="#1a1a1a">4</text><text x="73.0" y="672.90" font-size="8.85" text-anchor="end" fill="#1a1a1a">t(4;11)</text><text x="95.00" y="672.90" font-size="8.85" text-anchor="middle" textLength="9.84" lengthAdjust="spacingAndGlyphs" fill="#1a1a1a">72</text><text x="153.86" y="672.90" font-size="8.85" text-anchor="middle" textLength="9.84" lengthAdjust="spacingAndGlyphs" fill="#1a1a1a">48</text><text x="212.72" y="672.90" font-size="8.85" text-anchor="middle" textLength="9.84" lengthAdjust="spacingAndGlyphs" fill="#1a1a1a">35</text><text x="271.58" y="672.90" font-size="8.85" text-anchor="middle" textLength="9.84" lengthAdjust="spacingAndGlyphs" fill="#1a1a1a">35</text><text x="330.44" y="672.90" font-size="8.85" text-anchor="middle" textLength="9.84" lengthAdjust="spacingAndGlyphs" fill="#1a1a1a">32</text><text x="389.30" y="672.90" font-size="8.85" text-anchor="middle" textLength="9.84" lengthAdjust="spacingAndGlyphs" fill="#1a1a1a">26</text><text x="448.16" y="672.90" font-size="8.85" text-anchor="middle" textLength="9.84" lengthAdjust="spacingAndGlyphs" fill="#1a1a1a">15</text><text x="507.02" y="672.90" font-size="8.85" text-anchor="middle" textLength="4.92" lengthAdjust="spacingAndGlyphs" fill="#1a1a1a">8</text><text x="73.0" y="682.45" font-size="8.85" text-anchor="end" fill="#1a1a1a">other KMT2A</text><text x="95.00" y="682.45" font-size="8.85" text-anchor="middle" textLength="9.84" lengthAdjust="spacingAndGlyphs" fill="#1a1a1a">11</text><text x="153.86" y="682.45" font-size="8.85" text-anchor="middle" textLength="9.84" lengthAdjust="spacingAndGlyphs" fill="#1a1a1a">10</text><text x="212.72" y="682.45" font-size="8.85" text-anchor="middle" textLength="4.92" lengthAdjust="spacingAndGlyphs" fill="#1a1a1a">8</text><text x="271.58" y="682.45" font-size="8.85" text-anchor="middle" textLength="4.92" lengthAdjust="spacingAndGlyphs" fill="#1a1a1a">8</text><text x="330.44" y="682.45" font-size="8.85" text-anchor="middle" textLength="4.92" lengthAdjust="spacingAndGlyphs" fill="#1a1a1a">7</text><text x="389.30" y="682.45" font-size="8.85" text-anchor="middle" textLength="4.92" lengthAdjust="spacingAndGlyphs" fill="#1a1a1a">6</text><text x="448.16" y="682.45" font-size="8.85" text-anchor="middle" textLength="4.92" lengthAdjust="spacingAndGlyphs" fill="#1a1a1a">2</text><text x="507.02" y="682.45" font-size="8.85" text-anchor="middle" textLength="4.92" lengthAdjust="spacingAndGlyphs" fill="#1a1a1a">0</text><text x="73.0" y="692.00" font-size="8.85" text-anchor="end" fill="#1a1a1a">14q32</text><text x="95.00" y="692.00" font-size="8.85" text-anchor="middle" textLength="9.84" lengthAdjust="spacingAndGlyphs" fill="#1a1a1a">27</text><text x="153.86" y="692.00" font-size="8.85" text-anchor="middle" textLength="9.84" lengthAdjust="spacingAndGlyphs" fill="#1a1a1a">18</text><text x="212.72" y="692.00" font-size="8.85" text-anchor="middle" textLength="9.84" lengthAdjust="spacingAndGlyphs" fill="#1a1a1a">14</text><text x="271.58" y="692.00" font-size="8.85" text-anchor="middle" textLength="9.84" lengthAdjust="spacingAndGlyphs" fill="#1a1a1a">12</text><text x="330.44" y="692.00" font-size="8.85" text-anchor="middle" textLength="4.92" lengthAdjust="spacingAndGlyphs" fill="#1a1a1a">8</text><text x="389.30" y="692.00" font-size="8.85" text-anchor="middle" textLength="4.92" lengthAdjust="spacingAndGlyphs" fill="#1a1a1a">6</text><text x="448.16" y="692.00" font-size="8.85" text-anchor="middle" textLength="4.92" lengthAdjust="spacingAndGlyphs" fill="#1a1a1a">4</text><text x="507.02" y="692.00" font-size="8.85" text-anchor="middle" textLength="4.92" lengthAdjust="spacingAndGlyphs" fill="#1a1a1a">1</text><text x="73.0" y="701.55" font-size="8.85" text-anchor="end" fill="#1a1a1a">other abns.</text><text x="95.00" y="701.55" font-size="8.85" text-anchor="middle" textLength="14.76" lengthAdjust="spacingAndGlyphs" fill="#1a1a1a">210</text><text x="153.86" y="701.55" font-size="8.85" text-anchor="middle" textLength="14.76" lengthAdjust="spacingAndGlyphs" fill="#1a1a1a">169</text><text x="212.72" y="701.55" font-size="8.85" text-anchor="middle" textLength="14.76" lengthAdjust="spacingAndGlyphs" fill="#1a1a1a">136</text><text x="271.58" y="701.55" font-size="8.85" text-anchor="middle" textLength="14.76" lengthAdjust="spacingAndGlyphs" fill="#1a1a1a">116</text><text x="330.44" y="701.55" font-size="8.85" text-anchor="middle" textLength="9.84" lengthAdjust="spacingAndGlyphs" fill="#1a1a1a">93</text><text x="389.30" y="701.55" font-size="8.85" text-anchor="middle" textLength="9.84" lengthAdjust="spacingAndGlyphs" fill="#1a1a1a">77</text><text x="448.16" y="701.55" font-size="8.85" text-anchor="middle" textLength="9.84" lengthAdjust="spacingAndGlyphs" fill="#1a1a1a">53</text><text x="507.02" y="701.55" font-size="8.85" text-anchor="middle" textLength="9.84" lengthAdjust="spacingAndGlyphs" fill="#1a1a1a">23</text><path d="M95.9 715.3H144.9" stroke="#4060a0" stroke-width="4.40" stroke-opacity="0.28"/><path d="M95.9 715.3H144.9" stroke="#26385a" stroke-width="1.7"/><text x="146.9" y="719.2" font-size="9.1" fill="#1a1a1a">no abn.</text><path d="M194.2 715.3H243.2" stroke="#60b0f0" stroke-width="4.40" stroke-opacity="0.28"/><path d="M194.2 715.3H243.2" stroke="#66a0d4" stroke-width="1.7"/><text x="245.2" y="719.2" font-size="9.1" fill="#1a1a1a">Ho-Tr</text><path d="M314.4 715.3H363.4" stroke="#a098e8" stroke-width="4.40" stroke-opacity="0.28"/><path d="M314.4 715.3H363.4" stroke="#7874a6" stroke-width="1.7"/><text x="365.4" y="719.2" font-size="9.1" fill="#1a1a1a">HeH</text><path d="M409.7 715.3H458.7" stroke="#f8b840" stroke-width="4.40" stroke-opacity="0.28"/><path d="M409.7 715.3H458.7" stroke="#cc8e34" stroke-width="1.7"/><text x="460.7" y="719.2" font-size="9.1" fill="#1a1a1a">t(1;19)</text><path d="M95.9 733.2H144.9" stroke="#70c850" stroke-width="4.40" stroke-opacity="0.28"/><path d="M95.9 733.2H144.9" stroke="#5a9c44" stroke-width="1.7"/><text x="146.9" y="737.1" font-size="9.1" fill="#1a1a1a">t(4;11)</text><path d="M194.2 733.2H243.2" stroke="#f03858" stroke-width="4.40" stroke-opacity="0.28"/><path d="M194.2 733.2H243.2" stroke="#760824" stroke-width="1.7"/><text x="245.2" y="737.1" font-size="9.1" fill="#1a1a1a">other KMT2A</text><path d="M314.4 733.2H363.4" stroke="#f040b0" stroke-width="4.40" stroke-opacity="0.28"/><path d="M314.4 733.2H363.4" stroke="#941658" stroke-width="1.7"/><text x="365.4" y="737.1" font-size="9.1" fill="#1a1a1a">14q32</text><path d="M409.7 733.2H458.7" stroke="#d09040" stroke-width="4.40" stroke-opacity="0.28"/><path d="M409.7 733.2H458.7" stroke="#8a5e26" stroke-width="1.7"/><text x="460.7" y="737.1" font-size="9.1" fill="#1a1a1a">other abns.</text></g><path d="M0 0H520V1.5H0Z M0 0H1.9V746H0Z M517.9 0H520V746H517.9Z M0 743.8H520V746H0Z" fill="#000"/></svg></body></html>
